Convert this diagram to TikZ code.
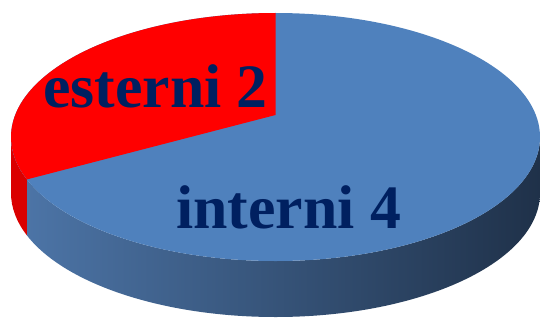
\documentclass[tikz,border=0pt]{standalone}
\usepackage{fontspec}
\setmainfont{Liberation Serif}
\usetikzlibrary{calc}
\definecolor{topblue}{RGB}{79,129,189}
\definecolor{sideleft}{RGB}{76,116,166}
\definecolor{sidemid}{RGB}{52,80,118}
\definecolor{sideright}{RGB}{31,49,73}
\definecolor{topred}{RGB}{255,0,0}
\definecolor{sidered}{RGB}{218,0,0}
\definecolor{labelblue}{RGB}{0,32,96}
\begin{document}
\begin{tikzpicture}[x=1bp, y=1bp,
  pielabel/.style={inner sep=0pt, anchor=base, text=labelblue,
    font=\fontsize{62}{70}\selectfont\bfseries}]
  \useasboundingbox (0,0) rectangle (540,321);

  % Top face centre and slice points
  \coordinate (c) at (275.5,184);
  \coordinate (p) at (275.5,206);
  \coordinate (t) at (275.5,308);
  \coordinate (b) at ($(c)+(200:264.5 and 124)$);
  \coordinate (l) at ($(c)+(180:264.5 and 124)$);

  % Side of the disc
  \shade[left color=sideleft, middle color=sidemid, right color=sideright]
    (b) arc[start angle=200, end angle=360, x radius=264.5, y radius=124]
    -- ++(0,-56)
    arc[start angle=360, end angle=200, x radius=264.5, y radius=124]
    -- cycle;
  \fill[sidered] (l) arc[start angle=180, end angle=200, x radius=264.5, y radius=124]
    -- ++(0,-56)
    arc[start angle=200, end angle=180, x radius=264.5, y radius=124]
    -- cycle;

  % Top face
  \fill[topblue] (c) ellipse[x radius=264.5, y radius=124];
  \fill[topred] (p) -- (t)
    arc[start angle=90, end angle=200, x radius=264.5, y radius=124] -- cycle;

  % Labels
  \foreach \nm/\x/\y/\txt in {esterni/155.5/214/esterni 2, interni/288.5/93/interni 4}
    \node[pielabel] (\nm) at (\x,\y) {\txt};
\end{tikzpicture}
\end{document}
